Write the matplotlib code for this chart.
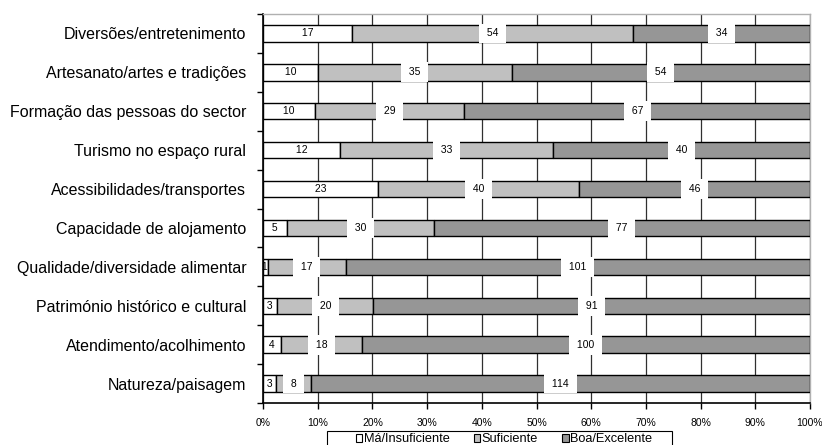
import matplotlib
matplotlib.use("Agg")
import matplotlib.pyplot as plt
import numpy as np
from matplotlib.patches import Patch, Rectangle

plt.rcParams['font.family'] = ['Liberation Sans', 'DejaVu Sans']

categorias = [
    "Diversões/entretenimento",
    "Artesanato/artes e tradições",
    "Formação das pessoas do sector",
    "Turismo no espaço rural",
    "Acessibilidades/transportes",
    "Capacidade de alojamento",
    "Qualidade/diversidade alimentar",
    "Património histórico e cultural",
    "Atendimento/acolhimento",
    "Natureza/paisagem",
]
ma_insuficiente = [17, 10, 10, 12, 23, 5, 1, 3, 4, 3]
suficiente = [54, 35, 29, 33, 40, 30, 17, 20, 18, 8]
boa_excelente = [34, 54, 67, 40, 46, 77, 101, 91, 100, 114]

series = [
    ("Má/Insuficiente", ma_insuficiente, "#ffffff"),
    ("Suficiente", suficiente, "#c0c0c0"),
    ("Boa/Excelente", boa_excelente, "#969696"),
]

counts = np.array([ma_insuficiente, suficiente, boa_excelente], dtype=float)
totals = counts.sum(axis=0)
y = np.arange(len(categorias))[::-1]

W, H = 822, 445
fig = plt.figure(figsize=(W / 100, H / 100), dpi=100)
ax = fig.add_axes([263 / W, 42 / H, 547 / W, 389 / H])

left = np.zeros(len(categorias))
for i, ((nome, vals, cor), row) in enumerate(zip(series, counts)):
    pct = row / totals * 100
    ax.barh(y, pct, left=left, height=0.42, color=cor, edgecolor="black",
            linewidth=1.0, zorder=3)
    for yi, l, w, v in zip(y, left, pct, vals):
        # white segments need no label box
        box = None if i == 0 else dict(facecolor="white", edgecolor="none", pad=3.5)
        ax.text(l + w / 2, yi, f" {v} ", ha="center", va="center", fontsize=7.5,
                zorder=4, bbox=box)
    left += pct

ax.set_xlim(0, 100)
ax.set_ylim(-0.5, len(categorias) - 0.5)
ax.set_xticks(np.arange(0, 101, 10))
ax.set_xticklabels([f"{v}%" for v in range(0, 101, 10)], fontsize=7.5)
ax.tick_params(axis="x", direction="out", length=4, pad=7, width=1)

ax.set_yticks(y)
ax.set_yticklabels(categorias, fontsize=11.5)
ax.tick_params(axis="y", which="major", length=0, pad=12)
ax.set_yticks(np.arange(-0.5, len(categorias), 1), minor=True)
ax.tick_params(axis="y", which="minor", direction="out", length=4, width=1)

ax.xaxis.grid(True, color="#303030", linewidth=0.9, zorder=0)
ax.set_axisbelow(True)
ax.spines["left"].set_linewidth(1.2)
ax.spines["bottom"].set_linewidth(1.2)
for s in ("top", "right"):
    ax.spines[s].set_color("#b0b0b0")
    ax.spines[s].set_linewidth(1.0)

# legend box runs off the bottom edge of the figure
fig.add_artist(Rectangle((327 / W, -0.02), 345 / W, (H - 431) / H + 0.02,
                         transform=fig.transFigure, facecolor="white",
                         edgecolor="black", linewidth=0.8))
handles = [Patch(facecolor=c, edgecolor="black", linewidth=0.8, label=n)
           for n, _, c in series]
leg = fig.legend(handles=handles, loc="center left", ncol=3,
                 bbox_to_anchor=(356 / W, 1 - 439.5 / H), fontsize=9.2,
                 frameon=False, handlelength=0.5, handleheight=0.5,
                 handletextpad=0.1, columnspacing=1.9, borderpad=0.0,
                 borderaxespad=0.0)

fig.savefig("out.png", dpi=100)
